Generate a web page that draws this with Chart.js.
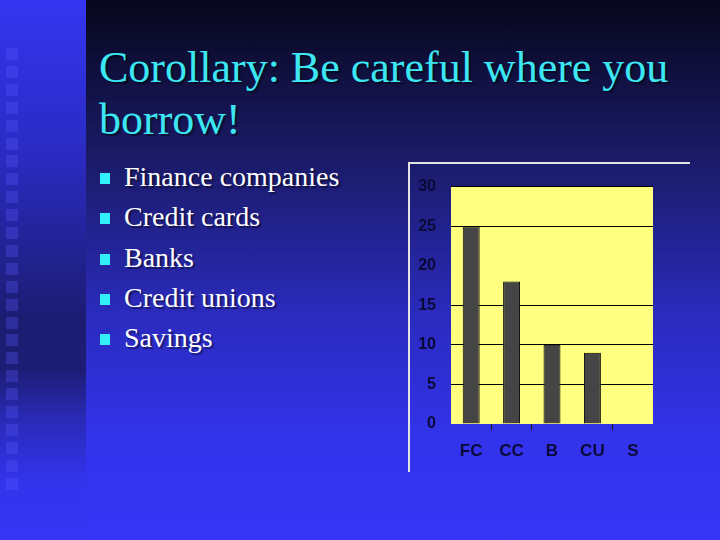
<!DOCTYPE html>
<html>
<head>
<meta charset="utf-8">
<script src="https://cdn.jsdelivr.net/npm/chart.js@4/dist/chart.umd.min.js"></script>
<style>
  html, body { margin: 0; padding: 0; }
  body {
    width: 720px; height: 540px; position: relative; overflow: hidden;
    background: linear-gradient(to bottom, #07071c 0px, #1c1c6e 170px, #2b2bc0 320px, #3333ec 440px, #3535f5 540px);
    font-family: "Liberation Serif", "Times New Roman", serif;
  }
  #stripe {
    position: absolute; left: 0; top: 0; width: 86px; height: 540px;
    background: linear-gradient(to bottom, #3535f2 0px, #2b2bc4 150px, #1c1c72 320px, #1d1d76 370px, #2a2ab8 420px, #3333ec 480px, #3535f5 540px);
  }
  .sq { position: absolute; left: 6px; width: 12px; height: 12px; background: rgba(90, 90, 255, 0.3); }
  #title {
    position: absolute; left: 99px; top: 42px; margin: 0;
    font-size: 44px; line-height: 52px; font-weight: normal; color: #3ce6f2;
    text-shadow: 2px 2px 1px rgba(0, 0, 0, 0.45);
  }
  #bullets { position: absolute; left: 100px; top: 157px; margin: 0; padding: 0; list-style: none; }
  #bullets li {
    position: relative; padding-left: 24px; font-size: 28px; line-height: 40.3px; color: #ffffff;
    text-shadow: 2px 2px 1px rgba(0, 0, 0, 0.45);
  }
  #bullets li::before {
    content: ""; position: absolute; left: 0; top: 16px; width: 10px; height: 11px; background: #33f0f8;
  }
  #frame {
    position: absolute; left: 408px; top: 162px; width: 282px; height: 310px;
    border-top: 2px solid #e4e4e4; border-left: 2px solid #e4e4e4; box-sizing: border-box;
  }
  #chartBox { position: absolute; left: 408px; top: 162px; width: 282px; height: 310px; }
</style>
</head>
<body>
<div id="stripe"></div>
<h1 id="title">Corollary: Be careful where you<br>borrow!</h1>
<ul id="bullets">
  <li>Finance companies</li>
  <li>Credit cards</li>
  <li>Banks</li>
  <li>Credit unions</li>
  <li>Savings</li>
</ul>
<div id="frame"></div>
<div id="chartBox"><canvas id="borrowChart" width="282" height="310"></canvas></div>

<script>
// chart data
const categories = ['FC', 'CC', 'B', 'CU', 'S'];
const rates = [25, 18, 10, 9, 0];
const yTicks = [0, 5, 10, 15, 20, 25, 30];

// left stripe squares (decoration)
const stripe = document.getElementById('stripe');
for (let i = 0; i < 25; i++) {
    const sq = document.createElement('div');
    sq.className = 'sq';
    sq.style.top = (48 + i * 17.9) + 'px';
    stripe.appendChild(sq);
}

// yellow plot background
const plotBackground = {
    id: 'plotBackground',
    beforeDraw(chart) {
        const { ctx, chartArea } = chart;
        ctx.save();
        ctx.fillStyle = '#ffff80';
        ctx.fillRect(chartArea.left, chartArea.top, chartArea.right - chartArea.left, chartArea.bottom - chartArea.top);
        ctx.restore();
    }
};

const labelFont = { family: 'Liberation Sans, Arial, sans-serif', weight: 'bold' };

const ctx = document.getElementById('borrowChart').getContext('2d');
new Chart(ctx, {
    type: 'bar',
    data: {
        labels: categories,
        datasets: [
            { data: rates, backgroundColor: '#454545', borderColor: '#000000', borderWidth: 1,
              categoryPercentage: 1, barPercentage: 0.42 }
        ]
    },
    options: {
        responsive: false,
        devicePixelRatio: 1,
        animation: false,
        layout: { padding: { top: 21, right: 37, left: 0, bottom: 0 } },
        plugins: { legend: { display: false }, tooltip: { enabled: false } },
        scales: {
            x: {
                grid: {
                    drawOnChartArea: false,
                    tickLength: 6,
                    color: c => [1, 2, 4].includes(c.index) ? '#1a1a1a' : 'rgba(0,0,0,0)'
                },
                border: { display: false },
                ticks: { color: '#0a0a38', padding: 11, font: { ...labelFont, size: 17 } },
                afterFit: s => { s.height = 48; }
            },
            y: {
                min: yTicks[0],
                max: yTicks[yTicks.length - 1],
                afterBuildTicks: s => { s.ticks = yTicks.map(v => ({ value: v })); },
                grid: {
                    drawTicks: false,
                    color: c => (c.tick && (c.tick.value === 20 || c.tick.value === 0)) ? 'rgba(0,0,0,0)' : '#000000'
                },
                border: { display: false },
                ticks: { color: '#0a0a38', padding: 15, font: { ...labelFont, size: 16 } },
                afterFit: s => { s.width = 43; }
            }
        }
    },
    plugins: [plotBackground]
});
</script>
</body>
</html>
